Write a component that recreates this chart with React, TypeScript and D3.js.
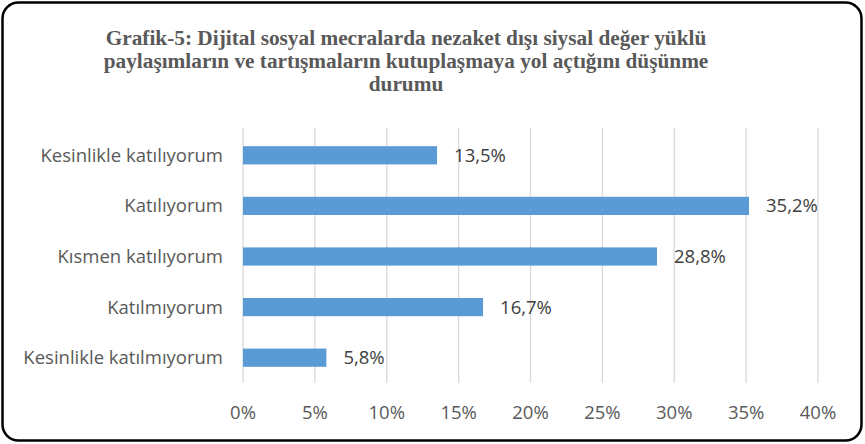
import React from 'react';
import * as d3 from 'd3';

const categories = [
  'Kesinlikle katılıyorum',
  'Katılıyorum',
  'Kısmen katılıyorum',
  'Katılmıyorum',
  'Kesinlikle katılmıyorum',
];
const values = [13.5, 35.2, 28.8, 16.7, 5.8];
const ticks = [0, 5, 10, 15, 20, 25, 30, 35, 40];
const titleLines = [
  'Grafik-5: Dijital sosyal mecralarda nezaket dışı siysal değer yüklü',
  'paylaşımların ve tartışmaların kutuplaşmaya yol açtığını düşünme',
  'durumu',
];

const W = 865;
const H = 444;
const LABEL_FONT = '"Open Sans", Lato, sans-serif';

export default function App() {
  const x = d3.scaleLinear().domain([0, 40]).range([243, 818]);
  const y = d3.scaleBand().domain(categories).range([130, 383]).paddingInner(0.64).paddingOuter(0.32);
  const fmt = (v: number) => v.toFixed(1).replace('.', ',') + '%';

  return (
    <div style={{ position: 'fixed', left: 0, top: 0 }}>
      <svg width={W} height={H} style={{ display: 'block', background: '#fff' }}>
        <rect x={2.5} y={2.5} width={W - 6} height={H - 6} rx={16} fill="#fff" stroke="#000" strokeWidth={2.5} />

        {titleLines.map((t, i) => (
          <text
            key={i}
            x={406}
            y={45 + i * 23}
            textAnchor="middle"
            fill="#595959"
            fontFamily='"Liberation Serif", serif'
            fontWeight="bold"
            fontSize={21.3}
          >
            {t}
          </text>
        ))}

        {/* grid */}
        {ticks.map(t => (
          <line key={t} x1={x(t)} x2={x(t)} y1={128} y2={383} stroke="#d9d9d9" strokeWidth={1.3} />
        ))}

        {/* bars */}
        {categories.map((c, i) => (
          <g key={c}>
            <rect x={x(0)} y={y(c)} width={x(values[i]) - x(0)} height={y.bandwidth()} fill="#5b9bd5" />
            <text
              x={223}
              y={(y(c) ?? 0) + y.bandwidth() / 2}
              dy="0.35em"
              textAnchor="end"
              fill="#595959"
              fontFamily={LABEL_FONT}
              fontSize={18.5}
            >
              {c}
            </text>
            <text
              x={x(values[i]) + 17}
              y={(y(c) ?? 0) + y.bandwidth() / 2}
              dy="0.35em"
              fill="#404040"
              fontFamily={LABEL_FONT}
              fontSize={18.5}
            >
              {fmt(values[i])}
            </text>
          </g>
        ))}

        {/* x axis labels */}
        {ticks.map(t => (
          <text
            key={t}
            x={x(t)}
            y={413}
            dy="0.35em"
            textAnchor="middle"
            fill="#595959"
            fontFamily={LABEL_FONT}
            fontSize={18.5}
          >
            {t}%
          </text>
        ))}
      </svg>
    </div>
  );
}
